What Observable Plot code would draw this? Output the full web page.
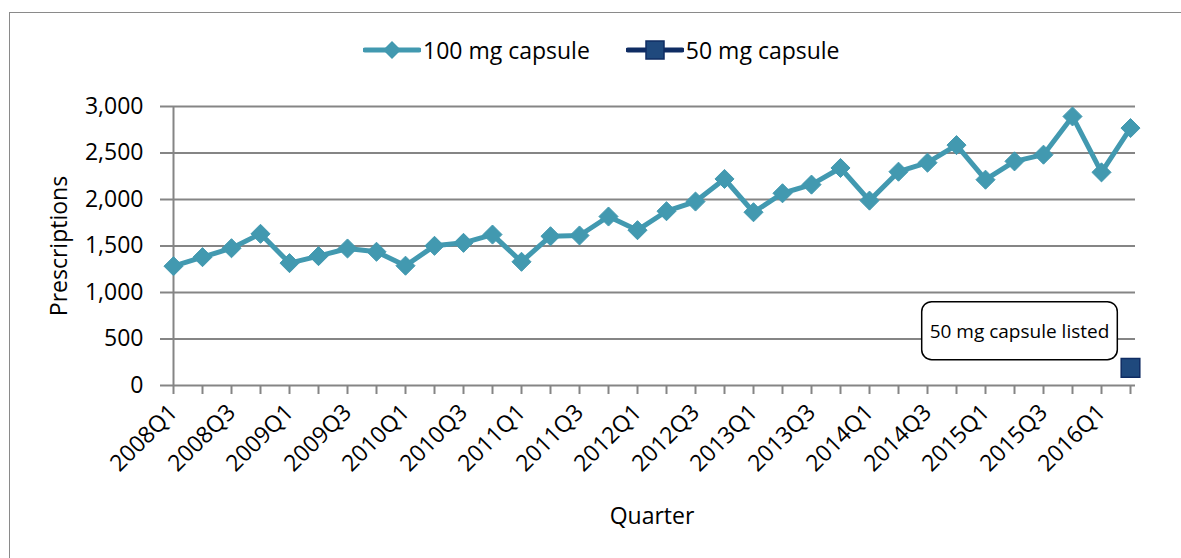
<!DOCTYPE html>
<html>
<head>
<meta charset="utf-8">
<script src="https://cdn.jsdelivr.net/npm/d3@7"></script>
<script src="https://cdn.jsdelivr.net/npm/@observablehq/plot@0.6"></script>
<style>
  html, body { margin: 0; padding: 0; background: #fff; }
  #wrap { position: relative; width: 1181px; height: 558px; overflow: hidden; font-family: "Open Sans", sans-serif; }
  #frame { position: absolute; left: 9px; top: 12px; width: 1200px; height: 600px; border: 1.5px solid #8a8a8a; box-sizing: border-box; pointer-events: none; }
  #legend { position: absolute; left: 363px; top: 34px; display: flex; align-items: center; font-size: 23px; color: #000; }
  #legend .item { display: flex; align-items: center; }
  #legend svg { display: block; }
  #chart { position: absolute; left: 0; top: 0; width: 1181px; }
</style>
</head>
<body>
<div id="wrap">
  <div id="frame"></div>
  <div id="chart"></div>
  <div id="legend"></div>
</div>
<script>
// ---- data ----
const quarters = [
  "2008Q1","2008Q2","2008Q3","2008Q4",
  "2009Q1","2009Q2","2009Q3","2009Q4",
  "2010Q1","2010Q2","2010Q3","2010Q4",
  "2011Q1","2011Q2","2011Q3","2011Q4",
  "2012Q1","2012Q2","2012Q3","2012Q4",
  "2013Q1","2013Q2","2013Q3","2013Q4",
  "2014Q1","2014Q2","2014Q3","2014Q4",
  "2015Q1","2015Q2","2015Q3","2015Q4",
  "2016Q1","2016Q2"
];
const capsule100 = [
  1283, 1380, 1476, 1631,
  1316, 1391, 1473, 1438,
  1288, 1502, 1534, 1623,
  1330, 1605, 1613, 1817,
  1670, 1874, 1978, 2221,
  1863, 2067, 2160, 2339,
  1988, 2299, 2396, 2585,
  2213, 2410, 2482, 2893,
  2292, 2768
];
const capsule50Quarters = ["2016Q2"];
const capsule50 = [190];
const yTicks = [0, 500, 1000, 1500, 2000, 2500, 3000];
const seriesNames = ["100 mg capsule", "50 mg capsule"];
const annotation = [{quarter: "2015Q2", value: 580, label: "50 mg capsule listed"}];

// ---- styles ----
const teal = "#4299b0";
const navyFill = "#1f497d";
const navyStroke = "#0f2c63";
const gridColor = "#858585";
const font = "Open Sans, sans-serif";

const data100 = quarters.map((q, i) => ({quarter: q, value: capsule100[i]}));
const data50 = capsule50Quarters.map((q, i) => ({quarter: q, value: capsule50[i]}));

const plot = Plot.plot({
  width: 1181,
  height: 558,
  marginLeft: 168,
  marginRight: 46,
  marginTop: 106,
  marginBottom: 173,
  style: {fontFamily: font, fontSize: "23px", color: "#000", background: "transparent"},
  x: {type: "point", domain: quarters, padding: 0},
  y: {domain: [0, 3000]},
  marks: [
    Plot.gridY(yTicks, {stroke: gridColor, strokeOpacity: 1, strokeWidth: 2}),
    Plot.ruleX([quarters[0]], {stroke: gridColor, strokeWidth: 2, y1: 0, y2: 3000}),
    Plot.axisY({
      ticks: yTicks, tickSize: 8, tickPadding: 17, tickFormat: d3.format(","),
      stroke: gridColor, strokeWidth: 2, fill: "#000", fontSize: 23,
      label: "Prescriptions", labelAnchor: "center", labelArrow: "none", labelOffset: 118
    }),
    Plot.axisX({
      tickSize: 9, tickPadding: 14, tickRotate: -45,
      tickFormat: d => (quarters.indexOf(d) % 2 === 0 ? d : ""),
      stroke: gridColor, strokeWidth: 2, fill: "#000", fontSize: 23,
      label: "Quarter", labelAnchor: "center", labelArrow: "none", labelOffset: 138
    }),
    Plot.line(data100, {x: "quarter", y: "value", stroke: teal, strokeWidth: 5, strokeLinejoin: "round"}),
    Plot.dot(data100, {x: "quarter", y: "value", symbol: "diamond2", r: 8.6, fill: teal, stroke: teal, strokeWidth: 1}),
    Plot.dot(data50, {x: "quarter", y: "value", symbol: "square", r: 10.5, fill: navyFill, stroke: navyStroke, strokeWidth: 1.5}),
    Plot.text(annotation, {x: "quarter", y: "value", text: "label", dx: 5, fontSize: 19, fill: "#000"})
  ]
});
document.getElementById("chart").appendChild(plot);

// rounded box behind annotation text
const annG = plot.querySelector('g[aria-label="text"]');
if (annG) {
  const t = annG.querySelector("text");
  const bb = t.getBBox();
  const padX = 8, padY = 16;
  const rect = document.createElementNS("http://www.w3.org/2000/svg", "rect");
  rect.setAttribute("x", bb.x - padX);
  rect.setAttribute("y", bb.y - padY);
  rect.setAttribute("width", bb.width + 2 * padX);
  rect.setAttribute("height", bb.height + 2 * padY);
  rect.setAttribute("rx", 10);
  rect.setAttribute("fill", "#fff");
  rect.setAttribute("stroke", "#000");
  rect.setAttribute("stroke-width", 1.5);
  const tr = t.getAttribute("transform");
  if (tr) rect.setAttribute("transform", tr);
  annG.insertBefore(rect, annG.firstChild);
}

// legend
const legend = document.getElementById("legend");
function swatch(kind) {
  const s = d3.create("svg").attr("width", 58).attr("height", 24);
  if (kind === 0) {
    s.append("line").attr("x1", 2).attr("x2", 56).attr("y1", 12).attr("y2", 12)
      .attr("stroke", teal).attr("stroke-width", 5).attr("stroke-linecap", "round");
    s.append("path").attr("d", "M29,3 L38,12 L29,21 L20,12 Z").attr("fill", teal);
  } else {
    s.append("line").attr("x1", 2).attr("x2", 56).attr("y1", 12).attr("y2", 12)
      .attr("stroke", navyStroke).attr("stroke-width", 5).attr("stroke-linecap", "round");
    s.append("rect").attr("x", 20).attr("y", 3).attr("width", 18).attr("height", 18)
      .attr("fill", navyFill).attr("stroke", navyStroke).attr("stroke-width", 1.5);
  }
  return s.node();
}
seriesNames.forEach((name, i) => {
  const item = document.createElement("div");
  item.className = "item";
  if (i > 0) item.style.marginLeft = "36px";
  item.appendChild(swatch(i));
  const span = document.createElement("span");
  span.textContent = name;
  span.style.marginLeft = "2px";
  item.appendChild(span);
  legend.appendChild(item);
});
</script>
</body>
</html>
